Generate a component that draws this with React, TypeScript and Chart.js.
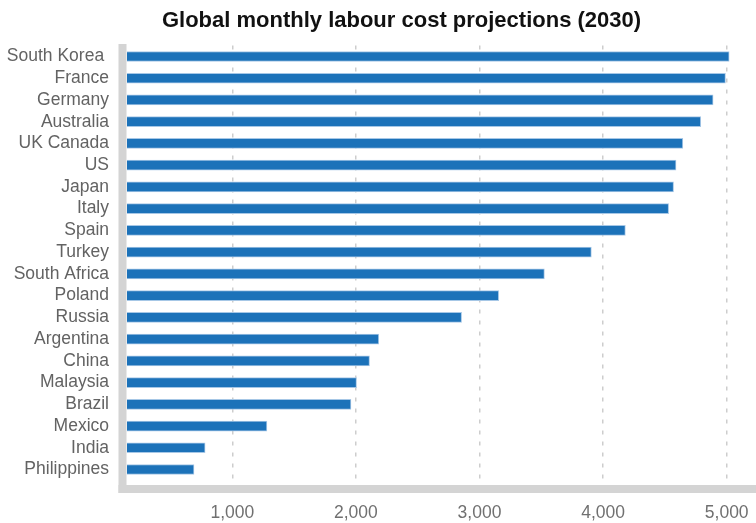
import React, { useEffect, useRef } from "react";
import { Chart, registerables } from "chart.js";

Chart.register(...registerables);

const categories = [
  "South Korea ",
  "France",
  "Germany",
  "Australia",
  "UK Canada",
  "US",
  "Japan",
  "Italy",
  "Spain",
  "Turkey",
  "South Africa",
  "Poland",
  "Russia",
  "Argentina",
  "China",
  "Malaysia",
  "Brazil",
  "Mexico",
  "India",
  "Philippines",
];

const costs = [
  5020, 4990, 4890, 4790, 4645, 4590, 4570, 4530, 4180, 3905, 3525, 3155, 2855,
  2185, 2110, 2005, 1960, 1280, 780, 690,
];

const xTickValues = [1000, 2000, 3000, 4000, 5000];
const xMin = 148;
const xMax = 5237;

const titleText = "Global monthly labour cost projections (2030)";

const FONT = "'Liberation Sans', Arial, sans-serif";

const axisFrame = {
  id: "axisFrame",
  afterDatasetsDraw(chart: any) {
    const { ctx, chartArea, width } = chart;
    ctx.save();
    ctx.fillStyle = "#d4d4d4";
    const l = chartArea.left;
    const b = chartArea.bottom;
    ctx.fillRect(l - 8.5, chartArea.top - 1.6, 8, b - chartArea.top + 1.6 + 12.6);
    ctx.fillRect(l - 8.5, b + 4.6, width - (l - 8.5), 8);
    ctx.restore();
  },
};

const titleDraw = {
  id: "titleDraw",
  afterDraw(chart: any) {
    const { ctx, width } = chart;
    ctx.save();
    ctx.font = `bold 22px ${FONT}`;
    ctx.fillStyle = "#111111";
    ctx.textAlign = "center";
    ctx.textBaseline = "alphabetic";
    ctx.fillText(titleText, width / 2 + 23.5, 27.3);
    ctx.restore();
  },
};

export default function App() {
  const ref = useRef<HTMLCanvasElement | null>(null);

  useEffect(() => {
    if (!ref.current) return;
    const chart = new Chart(ref.current, {
      type: "bar",
      data: {
        labels: categories,
        datasets: [
          {
            data: costs,
            backgroundColor: "#1c72b9",
            borderColor: "#a6c7e6",
            borderWidth: 1,
            barThickness: 10,
          },
        ],
      },
      plugins: [axisFrame, titleDraw],
      options: {
        indexAxis: "y",
        animation: false,
        responsive: true,
        maintainAspectRatio: false,
        layout: { padding: { left: 0, right: 0, top: 45.6, bottom: 0 } },
        plugins: {
          legend: { display: false },
          tooltip: { enabled: false },
          title: { display: false },
        },
        scales: {
          x: {
            type: "linear",
            min: xMin,
            max: xMax,
            afterBuildTicks: (s: any) => {
              s.ticks = xTickValues.map((v) => ({ value: v }));
            },
            afterFit: (s: any) => {
              s.height = 42.6;
              s.paddingLeft = 0;
              s.paddingRight = 0;
            },
            grid: {
              color: "#cdcdcd",
              lineWidth: 1.5,
              drawTicks: false,
            },
            border: { display: false, dash: [4, 7] },
            ticks: {
              color: "#707070",
              padding: 22,
              autoSkip: false,
              maxRotation: 0,
              font: { family: FONT, size: 17.5 },
              callback: (v: any) => Number(v).toLocaleString("en-US"),
            },
          },
          y: {
            afterFit: (s: any) => {
              s.width = 127;
              s.paddingTop = 0;
              s.paddingBottom = 0;
            },
            grid: { display: false, drawTicks: false },
            border: { display: false },
            ticks: {
              color: "#636363",
              padding: 18,
              autoSkip: false,
              font: { family: FONT, size: 17.5 },
            },
          },
        },
      },
    });
    return () => chart.destroy();
  }, []);

  return (
    <div style={{ position: "fixed", left: 0, top: 0, width: 756, height: 523, background: "#fff" }}>
      <canvas ref={ref} />
    </div>
  );
}
